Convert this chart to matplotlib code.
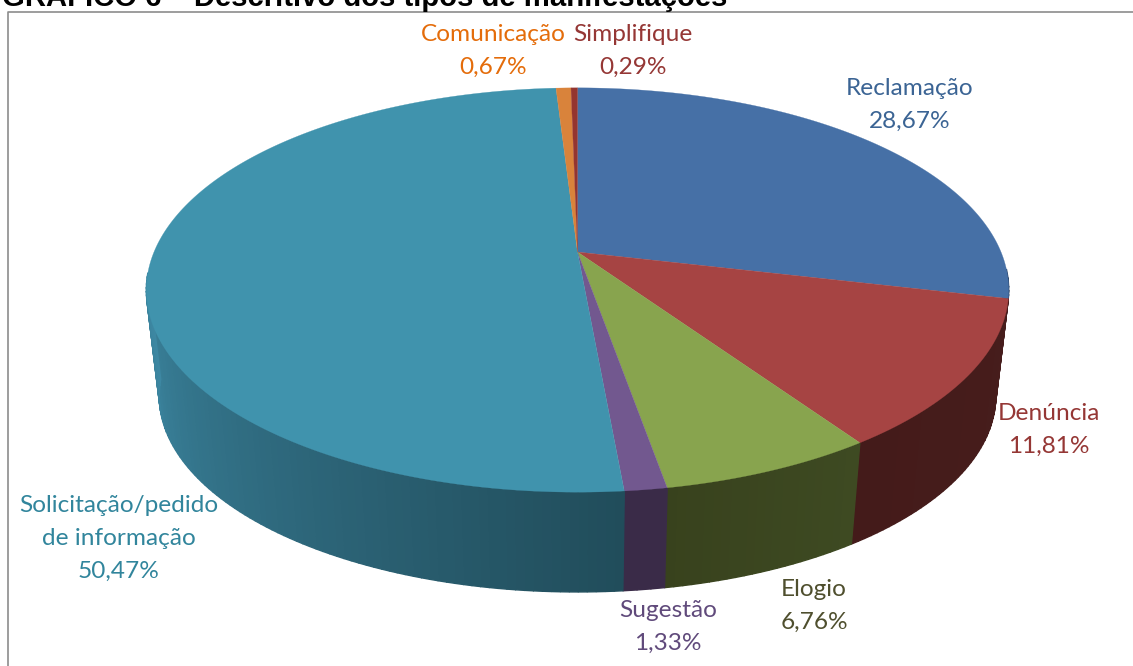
import matplotlib
matplotlib.use("Agg")
import matplotlib.pyplot as plt
import numpy as np

categories = ["Reclamação", "Denúncia", "Elogio", "Sugestão",
              "Solicitação/pedido\nde informação", "Comunicação", "Simplifique"]
values = [28.67, 11.81, 6.76, 1.33, 50.47, 0.67, 0.29]
value_labels = ["28,67%", "11,81%", "6,76%", "1,33%", "50,47%", "0,67%", "0,29%"]

top_colors = ["#4670A6", "#A64443", "#88A44E", "#72588F", "#4093AD", "#D9833B", "#94352F"]
side_front = ["#2A4366", "#471D1C", "#3E4A22", "#3A2B48", "#214D5B", "#8A4E20", "#5A2220"]
side_back = ["#2A4366", "#441B1A", "#38421D", "#3A2B48", "#3D88A3", "#8A4E20", "#5A2220"]
text_colors = ["#3B6494", "#953735", "#4F4F2E", "#604A7B", "#31859C", "#E46C0A", "#953735"]
label_pos = [(910, 105), (1049, 429.5), (814, 605.5), (668, 626.5), (119, 538.5), (493, 51), (633, 51)]

# perspective of the pie, in picture pixels
apex_x, apex_y = 577.5, 252
rx, ry, persp = 423.5, 195, 0.188
shrink, depth_apex_y = 0.97, 359

W, H = 1133, 666
fig = plt.figure(figsize=(W / 100, H / 100), dpi=100)
ax = fig.add_axes([0, 0, 1, 1])
ax.set_xlim(0, W)
ax.set_ylim(H, 0)
ax.axis("off")


def rim(t, bottom=False):
    d = 1 + persp * np.cos(t)
    x = rx * np.sin(t) / d
    y = -ry * np.cos(t) / d
    if bottom:
        return apex_x + shrink * x, depth_apex_y + shrink * y
    return apex_x + x, apex_y + y


edges = np.deg2rad(np.concatenate([[0], np.cumsum(values)]) * 3.6)

# frame of the chart, no line on the right in the source
ax.plot([8, 8, 1133], [666, 12, 12], color="#8C8C8C", lw=1.2, zorder=1)

# side wall, in thin strips so the shading can run across it
for i in range(len(values)):
    t1, t2 = max(edges[i], np.deg2rad(95)), min(edges[i + 1], np.deg2rad(264))
    if t2 <= t1:
        continue
    c1 = np.array(matplotlib.colors.to_rgb(side_front[i]))
    c2 = np.array(matplotlib.colors.to_rgb(side_back[i]))
    ticks = np.linspace(t1, t2, max(2, int(np.degrees(t2 - t1))))
    for a, b in zip(ticks[:-1], ticks[1:]):
        xt, yt = rim(np.array([a, b]))
        xb, yb = rim(np.array([b, a]), bottom=True)
        f = (a - t1) / (t2 - t1)
        col = c1 * (1 - f) + c2 * f
        ax.fill(np.r_[xt, xb], np.r_[yt, yb], color=col, lw=1.0, zorder=2)

# top face
for i in range(len(values)):
    t = np.linspace(edges[i], edges[i + 1], 200)
    x, y = rim(t)
    ax.fill(np.r_[apex_x, x], np.r_[apex_y, y], color=top_colors[i], lw=0.2, zorder=3)

# labels
for i in range(len(values)):
    ax.text(label_pos[i][0], label_pos[i][1], categories[i] + "\n" + value_labels[i],
            color=text_colors[i], family="Lato", fontsize=17.6, ha="center", va="center",
            linespacing=1.7, zorder=4)

# title is cut by the top of the picture
ax.text(2, 6, "GRÁFICO 6 – Descritivo dos tipos de manifestações", family="Liberation Sans",
        fontweight="bold", fontsize=21.1, color="black", ha="left", va="baseline")

fig.savefig("out.png", dpi=100)
